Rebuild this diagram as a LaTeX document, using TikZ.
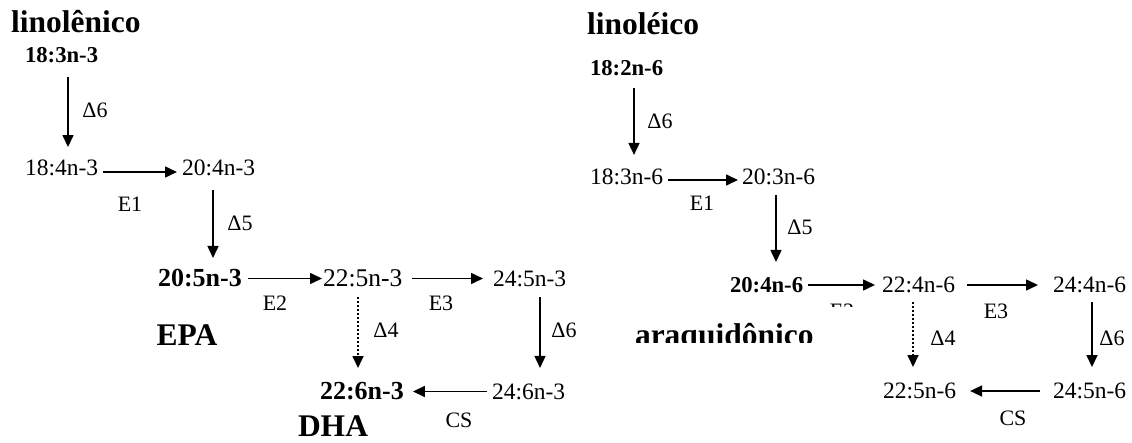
\documentclass[tikz,border=0pt]{standalone}
\usepackage{fontspec}
\setmainfont{Liberation Serif}
\usetikzlibrary{arrows.meta}
\begin{document}
\begin{tikzpicture}[x=1pt,y=-1pt,
  every node/.style={inner sep=0pt, outer sep=0pt},
  ttl/.style={font=\fontsize{31.5}{36}\selectfont\bfseries},
  cb/.style={font=\fontsize{22.7}{26}\selectfont\bfseries, anchor=west},
  cbl/.style={font=\fontsize{26}{30}\selectfont\bfseries, anchor=west},
  cr/.style={font=\fontsize{23.5}{27}\selectfont, anchor=west},
  crl/.style={font=\fontsize{25.5}{29}\selectfont, anchor=west},
  lab/.style={font=\fontsize{22}{26}\selectfont},
  arr/.style={line width=1.6pt, -{Triangle[length=12pt,width=11pt]}},
  dotarr/.style={arr, dash pattern=on 2pt off 2pt},
]
\path[use as bounding box] (0,0) rectangle (1132,443);

% ---------- left: linolenico ----------
\node[ttl, anchor=base west] (t1) at (11,33) {linolênico};
\node[cb]  (a1) at (25,55)    {18:3n-3};
\node[cr]  (a2) at (25,167.5) {18:4n-3};
\node[cr]  (a3) at (182,167.5) {20:4n-3};
\node[cbl] (a4) at (158,278.5) {20:5n-3};
\node[crl] (a5) at (323,278.5) {22:5n-3};
\node[cr]  (a6) at (493,278.5) {24:5n-3};
\node[cbl] (a7) at (320,391.5) {22:6n-3};
\node[cr]  (a8) at (492,391.5) {24:6n-3};

\node[lab] (l1) at (95,110)  {Δ6};
\node[lab] (l2) at (130,204) {E1};
\node[lab] (l3) at (240,223) {Δ5};
\node[lab] (l4) at (275,303) {E2};
\node[lab] (l5) at (441,303) {E3};
\node[lab] (l6) at (386,330) {Δ4};
\node[lab] (l7) at (564,330) {Δ6};
\node[lab] (l8) at (459,420) {CS};
\node[ttl] (epa) at (187,335) {EPA};
\node[ttl] (dha) at (333,426) {DHA};

\draw[arr, shorten <=14pt, shorten >=12.5pt] ([xshift=43pt]a1.south west) -- ([xshift=43pt]a2.north west);
\draw[arr, shorten <=5pt, shorten >=5pt] ([yshift=-4.5pt]a2.east) -- ([yshift=-4.5pt]a3.west);
\draw[arr, shorten <=14.6pt, shorten >=11.7pt] ([xshift=31pt]a3.south west) -- ([xshift=55pt]a4.north west);
\draw[arr, shorten <=6pt, shorten >=1pt] (a4.east) -- (a5.west);
\draw[arr, shorten <=9.7pt, shorten >=10pt] (a5.east) -- (a6.west);
\draw[dotarr, shorten <=10pt, shorten >=14.7pt] ([xshift=35pt]a5.south west) -- ([xshift=38pt]a7.north west);
\draw[arr, shorten <=10.6pt, shorten >=15.6pt] ([xshift=47pt]a6.south west) -- ([xshift=48pt]a8.north west);
\draw[arr, shorten <=5pt, shorten >=9.2pt] (a8.west) -- (a7.east);

% ---------- right: linoleico ----------
\node[ttl, anchor=base west] (t2) at (587,35) {linoléico};
\node[cb] (b1) at (590,68.5)  {18:2n-6};
\node[cr] (b2) at (590,176.5) {18:3n-6};
\node[cr] (b3) at (742,176.5) {20:3n-6};
\node[cb] (b4) at (730,285)   {20:4n-6};
\node[cr] (b5) at (882,285)   {22:4n-6};
\node[cr] (b6) at (1053,285)  {24:4n-6};
\node[cr] (b7) at (883,391)   {22:5n-6};
\node[cr] (b8) at (1053,391)  {24:5n-6};

\node[lab] (m1) at (660,121)  {Δ6};
\node[lab] (m2) at (702,203)  {E1};
\node[lab] (m3) at (800,227)  {Δ5};
\node[lab] (m4) at (842,311)  {E2};
\node[lab] (m5) at (996,311)  {E3};
\node[lab] (m6) at (943,338)  {Δ4};
\node[lab] (m7) at (1112,338) {Δ6};
\node[lab] (m8) at (1013,418) {CS};

\begin{scope}
  \clip (620,307) rectangle (880,343);
  \fill[white] (620,307) rectangle (880,343);
  \node[ttl, anchor=base west] (t3) at (635,345) {araquidônico};
\end{scope}

\draw[arr, shorten <=11.8pt, shorten >=13.6pt] ([xshift=44pt]b1.south west) -- ([xshift=44pt]b2.north west);
\draw[arr, shorten <=5pt, shorten >=4pt] ([yshift=-3.5pt]b2.east) -- ([yshift=-3.5pt]b3.west);
\draw[arr, shorten <=10.6pt, shorten >=15.3pt] ([xshift=34pt]b3.south west) -- ([xshift=46pt]b4.north west);
\draw[arr, shorten <=5pt, shorten >=7pt] (b4.east) -- (b5.west);
\draw[arr, shorten <=12pt, shorten >=15pt] (b5.east) -- (b6.west);
\draw[dotarr, shorten <=9pt, shorten >=16pt] ([xshift=31pt]b5.south west) -- ([xshift=30pt]b7.north west);
\draw[arr, shorten <=9pt, shorten >=16pt] ([xshift=39pt]b6.south west) -- ([xshift=39pt]b8.north west);
\draw[arr, shorten <=13pt, shorten >=14pt] (b8.west) -- (b7.east);
\end{tikzpicture}
\end{document}
